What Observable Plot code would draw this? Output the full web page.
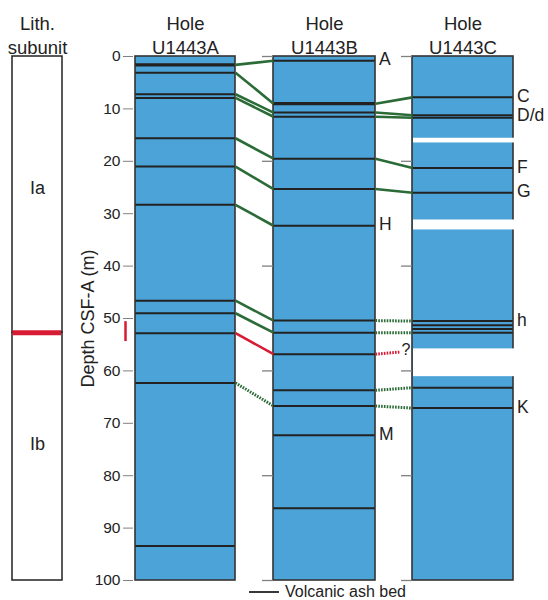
<!DOCTYPE html>
<html>
<head>
<meta charset="utf-8">
<script src="https://cdn.jsdelivr.net/npm/d3@7"></script>
<script src="https://cdn.jsdelivr.net/npm/@observablehq/plot@0.6"></script>
<style>
  body { margin: 0; background: #fff; font-family: "Liberation Sans", Arial, Helvetica, sans-serif; }
  #wrap { position: relative; width: 548px; height: 600px; }
  #legend { position: absolute; left: 249px; top: 583px; height: 18px; display: flex; align-items: center;
            font-size: 16px; color: #222; }
  #legend svg { display: block; }
</style>
</head>
<body>
<div id="wrap">
  <div id="chart"></div>
  <div id="legend"><svg width="36" height="18"><line x1="0" x2="30" y1="9" y2="9" stroke="#222" stroke-width="1.8"/></svg><span>Volcanic ash bed</span></div>
</div>
<script>
// ---- Data -------------------------------------------------------------
const holes = ["U1443A", "U1443B", "U1443C"];
const holeTop = [0, 0, 0];          // m CSF-A
const holeBottom = [100, 100, 100]; // m CSF-A

// Volcanic ash beds (depth, m CSF-A)
const bedsA = [1.6, 3.1, 7.2, 7.9, 15.6, 21.0, 28.3, 46.6, 49.0, 52.8, 62.3, 93.4];
const bedsB = [0.8, 9.0, 10.7, 11.5, 19.5, 25.3, 32.3, 50.4, 52.7, 56.8, 63.7, 66.7, 72.3, 86.2];
const bedsC = [7.8, 11.2, 11.7, 21.3, 26.0, 50.5, 51.3, 52.0, 52.7, 63.2, 67.1];
const thickBedsA = [1.6];
const thickBedsB = [9.0];

// Intervals with no recovery in Hole U1443C
const gapTopC = [15.6, 31.2, 55.8];
const gapBottomC = [16.5, 33.1, 61.1];

// Named ash beds
const bedNamesB = ["A", "H", "M"];
const bedNameDepthsB = [0.8, 32.3, 72.3];
const bedNamesC = ["C", "D/d", "F", "G", "h", "K"];
const bedNameDepthsC = [7.8, 11.45, 21.3, 26.0, 50.5, 67.1];

// Hole-to-hole correlations: kind = sure | probable | boundary | boundaryUncertain
const tieAB_from = [1.6, 3.1, 7.2, 7.9, 15.6, 21.0, 28.3, 46.6, 49.0, 52.8, 62.3];
const tieAB_to   = [0.8, 9.0, 10.7, 11.5, 19.5, 25.3, 32.3, 50.4, 52.7, 56.8, 66.7];
const tieAB_kind = ["sure", "sure", "sure", "sure", "sure", "sure", "sure", "sure", "sure", "boundary", "probable"];
const tieBC_from = [9.0, 10.7, 11.5, 19.5, 25.3, 50.4, 52.7, 56.8, 63.7, 66.7];
const tieBC_to   = [7.8, 11.2, 11.7, 21.3, 26.0, 50.5, 52.7, 56.4, 63.2, 67.1];
const tieBC_kind = ["sure", "sure", "sure", "sure", "sure", "probable", "probable", "boundaryUncertain", "probable", "probable"];

// Lithologic subunits
const subunits = ["Ia", "Ib"];
const subunitTop = [0, 52.7];
const subunitBottom = [52.7, 100];
const subunitBoundary = 52.7;
const boundaryRangeA = [50.6, 54.4];

// Depth axis ticks
const depthTicks = [0, 10, 20, 30, 40, 50, 60, 70, 80, 90, 100];
const sideTicks = [0, 20, 40, 60, 80, 100];

// ---- Layout & style ---------------------------------------------------
const colX = { lith: [12, 62], U1443A: [135, 235], U1443B: [273, 375], U1443C: [412, 513] };
const BLUE = "#4ba3d7", GREEN = "#2b6b37", RED = "#d81b35", INK = "#222", GREY = "#808080";
const subunitLabelDepth = [25.2, 74.0];

// ---- Tables -----------------------------------------------------------
const holeTable = holes.map((h, i) => ({ hole: h, top: holeTop[i], bottom: holeBottom[i] }));
const bedTable = [
  ...bedsA.map(d => ({ hole: "U1443A", depth: d, thick: thickBedsA.includes(d) })),
  ...bedsB.map(d => ({ hole: "U1443B", depth: d, thick: thickBedsB.includes(d) })),
  ...bedsC.map(d => ({ hole: "U1443C", depth: d, thick: false }))
];
const gapTable = gapTopC.map((t, i) => ({ hole: "U1443C", top: t, bottom: gapBottomC[i] }));
const nameTable = [
  ...bedNamesB.map((n, i) => ({ hole: "U1443B", name: n, depth: bedNameDepthsB[i] })),
  ...bedNamesC.map((n, i) => ({ hole: "U1443C", name: n, depth: bedNameDepthsC[i] }))
];
const tieTable = [
  ...tieAB_from.map((d, i) => ({ from: "U1443A", to: "U1443B", d1: d, d2: tieAB_to[i], kind: tieAB_kind[i] })),
  ...tieBC_from.map((d, i) => ({ from: "U1443B", to: "U1443C", d1: d, d2: tieBC_to[i], kind: tieBC_kind[i] }))
];
const subunitTable = subunits.map((s, i) => ({ name: s, top: subunitTop[i], bottom: subunitBottom[i], label: subunitLabelDepth[i] }));
const mid = h => (colX[h][0] + colX[h][1]) / 2;
const tieStroke = k => (k === "boundary" || k === "boundaryUncertain") ? RED : GREEN;
const solidTies = tieTable.filter(t => t.kind === "sure" || t.kind === "boundary");
const dottedTies = tieTable.filter(t => t.kind === "probable" || t.kind === "boundaryUncertain");
const tieEndX = t => t.kind === "boundaryUncertain" ? colX[t.to][0] - 12 : colX[t.to][0];

const chart = Plot.plot({
  width: 548,
  height: 586,
  marginTop: 56,
  marginBottom: 6,
  marginLeft: 133,
  marginRight: 0,
  x: { domain: [0, 548], range: [0, 548], axis: null },
  y: { domain: [0, 100], range: [56, 580], axis: null },
  style: { fontFamily: '"Liberation Sans", Arial, Helvetica, sans-serif', color: INK, background: "white", overflow: "visible" },
  marks: [
    // Lithologic subunit column
    Plot.rect(subunitTable, { x1: colX.lith[0], x2: colX.lith[1], y1: "top", y2: "bottom", fill: "white", stroke: INK, strokeWidth: 1.5 }),
    Plot.ruleY([subunitBoundary], { y: d => d, x1: colX.lith[0] + 0.5, x2: colX.lith[1] - 1, stroke: RED, strokeWidth: 5 }),
    Plot.text(subunitTable, { x: mid("lith"), y: "label", text: "name", fontSize: 18, fill: INK }),

    // Hole columns
    Plot.rect(holeTable, { x1: d => colX[d.hole][0], x2: d => colX[d.hole][1], y1: "top", y2: "bottom", fill: BLUE }),
    Plot.ruleY(bedTable.filter(d => !d.thick), { y: "depth", x1: d => colX[d.hole][0], x2: d => colX[d.hole][1], stroke: INK, strokeWidth: 2 }),
    Plot.ruleY(bedTable.filter(d => d.thick), { y: "depth", x1: d => colX[d.hole][0], x2: d => colX[d.hole][1], stroke: INK, strokeWidth: 3.2 }),
    Plot.rect(holeTable, { x1: d => colX[d.hole][0], x2: d => colX[d.hole][1], y1: "top", y2: "bottom", fill: "none", stroke: "#333", strokeWidth: 1.6 }),
    Plot.rect(gapTable, { x1: d => colX[d.hole][0] + 1, x2: d => colX[d.hole][1] + 1.5, y1: "top", y2: "bottom", fill: "white" }),

    // Side ticks on holes B and C
    Plot.ruleY(sideTicks, { y: d => d, x1: colX.U1443B[0] - 11, x2: colX.U1443B[0], stroke: GREY, strokeWidth: 1.3 }),
    Plot.ruleY(sideTicks, { y: d => d, x1: colX.U1443C[0] - 11, x2: colX.U1443C[0], stroke: GREY, strokeWidth: 1.3 }),

    // Correlation ties
    Plot.link(solidTies, { x1: d => colX[d.from][1], x2: d => colX[d.to][0], y1: "d1", y2: "d2", stroke: d => tieStroke(d.kind), strokeWidth: 2.6 }),
    Plot.link(dottedTies, { x1: d => colX[d.from][1], x2: tieEndX, y1: "d1", y2: "d2", stroke: d => tieStroke(d.kind), strokeWidth: 3, strokeDasharray: "1.6,1.2" }),
    Plot.text(tieTable.filter(t => t.kind === "boundaryUncertain"), { x: d => tieEndX(d) + 1, y: "d2", text: () => "?", textAnchor: "start", fontSize: 16, dy: -2, fill: INK }),

    // Red range marker for the subunit boundary in Hole U1443A
    Plot.ruleX([125], { x: d => d, y1: boundaryRangeA[0], y2: boundaryRangeA[1], stroke: RED, strokeWidth: 2.5 }),

    // Ash bed names
    Plot.text(nameTable, { x: d => colX[d.hole][1] + 3.5, y: "depth", text: "name", textAnchor: "start", fontSize: 17.5, dy: -1, fill: INK }),

    // Column titles
    Plot.text(holes, { x: d => mid(d), text: d => "Hole\n" + d, frameAnchor: "top", lineAnchor: "middle", dy: -22, lineHeight: 1.3, fontSize: 18.5, fill: INK }),
    Plot.text(["Lith.\nsubunit"], { x: mid("lith"), text: d => d, frameAnchor: "top", lineAnchor: "middle", dy: -22, lineHeight: 1.3, fontSize: 18.5, fill: INK }),

    // Depth axis
    Plot.axisY(depthTicks, { anchor: "left", tickSize: 10, tickPadding: 3, fontSize: 15.5, stroke: GREY, fill: INK, label: null }),
    Plot.text(["Depth CSF-A (m)"], { x: 88, text: d => d, frameAnchor: "middle", rotate: -90, fontSize: 18, fill: INK })
  ]
});
document.getElementById("chart").append(chart);
</script>
</body>
</html>
